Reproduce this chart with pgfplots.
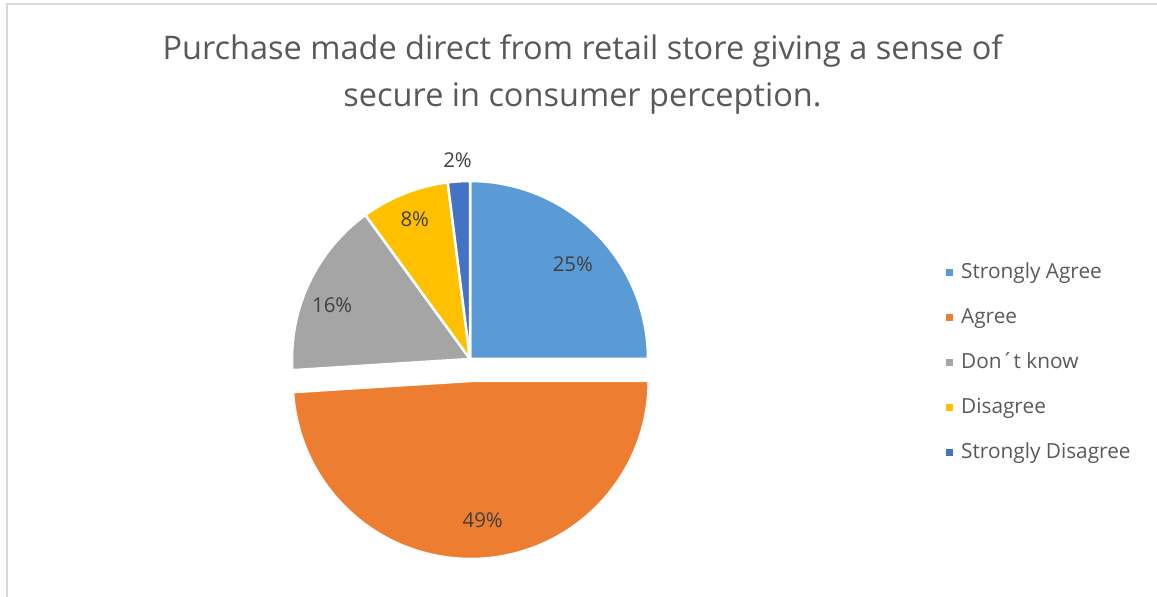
\documentclass[border=0pt]{standalone}
\usepackage{pgfplots}
\pgfplotsset{compat=1.18}
\usepackage{pgfplotstable}
\usetikzlibrary{calc}
\usepackage{fontspec}
\setmainfont{Open Sans}

\definecolor{cA}{HTML}{5B9BD5}
\definecolor{cB}{HTML}{ED7D31}
\definecolor{cC}{HTML}{A5A5A5}
\definecolor{cD}{HTML}{FFC000}
\definecolor{cE}{HTML}{4472C4}
\definecolor{txt}{HTML}{595959}
\definecolor{lbl}{HTML}{404040}
\definecolor{frame}{HTML}{D9D9D9}

% share of answers, in per cent
\pgfplotstableread[col sep=comma]{
label,value
Strongly Agree,25
Agree,49
Don´t know,16
Disagree,8
Strongly Disagree,2
}\piedata

% start and end angle of each slice, clockwise from 12 o'clock
\def\cum{0}
\pgfplotsforeachungrouped \i in {0,...,4}{%
  \pgfplotstablegetelem{\i}{value}\of\piedata
  \pgfmathsetmacro\sA{90-3.6*\cum}%
  \pgfmathsetmacro\cum{\cum+\pgfplotsretval}%
  \pgfmathsetmacro\eA{90-3.6*\cum}%
  \expandafter\xdef\csname ps\i\endcsname{\sA}%
  \expandafter\xdef\csname pe\i\endcsname{\eA}%
  \expandafter\xdef\csname pv\i\endcsname{\pgfplotsretval}%
}

% \slice{row}{colour}{explode}{label distance}{label angle shift}
\newcommand\slice[5]{%
  \edef\sa{\csname ps#1\endcsname}\edef\ea{\csname pe#1\endcsname}%
  \pgfmathsetmacro\ma{(\sa+\ea)/2}%
  \pgfmathsetmacro\la{\ma+#5}%
  \edef\tmp{\noexpand\fill[#2, draw=white, line width=2.5pt, line join=round]
    ($(axis cs:0,0)+(\ma:#3)$) -- ++(\sa:178pt)
    arc[start angle=\sa, end angle=\ea, radius=178pt] -- cycle;
    \noexpand\node[text=lbl, font=\noexpand\fontsize{20.4}{24}\noexpand\selectfont]
    at ($(axis cs:0,0)+(\ma:#3)+(\la:#4)$) {\csname pv#1\endcsname\noexpand\%};}%
  \tmp}

\begin{document}
\begin{tikzpicture}[x=1pt,y=1pt]
\path[use as bounding box] (0,0) rectangle (1157,597);
\draw[frame, line width=1.3pt] (7,0) -- (7,593) -- (1157,593);
\node[font=\fontsize{32.5}{47}\selectfont, text=txt, align=center]
  at (582.5,522.5) {Purchase made direct from retail store giving a sense of\\secure in consumer perception.};

\begin{axis}[
  at={(470pt,238pt)}, anchor=origin,
  x=178pt, y=178pt,
  xmin=-1.2, xmax=1.2, ymin=-1.3, ymax=1.2,
  hide axis, clip=false,
  legend cell align=left,
  legend image code/.code={\fill[#1, draw=none] (0pt,-3.5pt) rectangle (7pt,3.5pt);},
  legend style={draw=none, fill=none, at={(axis cs:2.674,-0.02)}, anchor=west,
    inner sep=0pt, row sep=23pt, text=txt,
    font=\fontsize{20.8}{25}\selectfont,
    nodes={inner ysep=0pt, inner xsep=8pt, text height=17pt, text depth=5pt}},
]
\slice{0}{cA}{0pt}{140pt}{-2.3}
\slice{1}{cB}{22pt}{140pt}{3.1}
\slice{2}{cC}{0pt}{148pt}{3.8}
\slice{3}{cD}{0pt}{150pt}{0}
\slice{4}{cE}{0pt}{199pt}{0}
\addlegendimage{fill=cA}\addlegendentry{Strongly Agree}
\addlegendimage{fill=cB}\addlegendentry{Agree}
\addlegendimage{fill=cC}\addlegendentry{Don´t know}
\addlegendimage{fill=cD}\addlegendentry{Disagree}
\addlegendimage{fill=cE}\addlegendentry{Strongly Disagree}
\end{axis}
\end{tikzpicture}
\end{document}
